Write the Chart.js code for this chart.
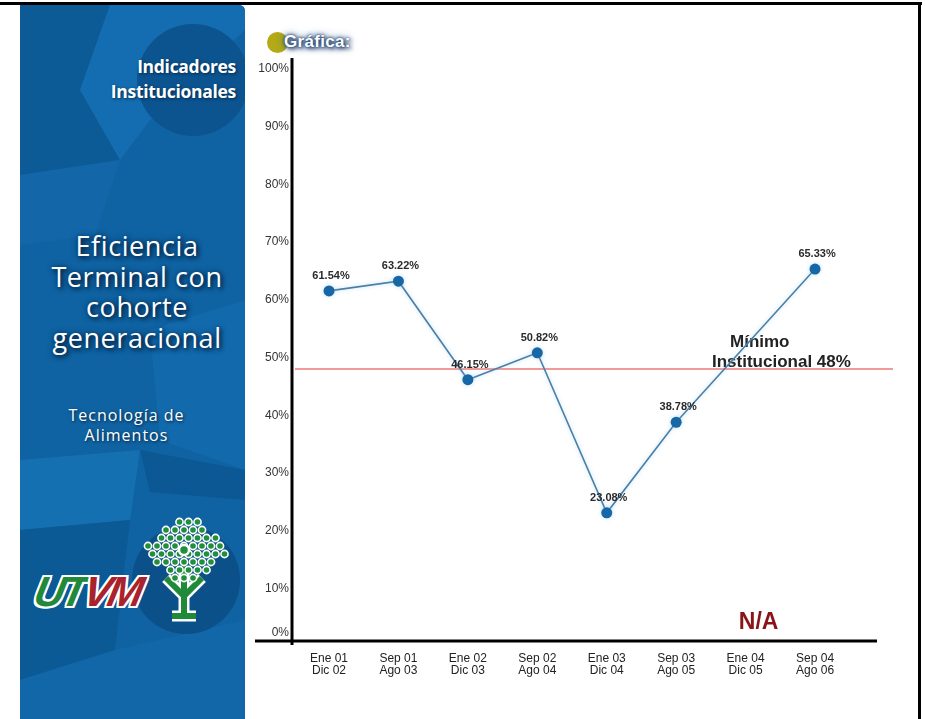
<!DOCTYPE html>
<html lang="es">
<head>
<meta charset="utf-8">
<title>Eficiencia Terminal con cohorte generacional</title>
<script src="https://cdn.jsdelivr.net/npm/chart.js@4.4.1/dist/chart.umd.min.js"></script>
<style>
  html, body { margin: 0; padding: 0; background: #fff; }
  body { width: 925px; height: 719px; position: relative; overflow: hidden; font-family: "Liberation Sans", Arial, sans-serif; }
  #frameTop { position: absolute; left: 0; top: 2px; width: 922px; height: 3px; background: #000; }
  #frameRight { position: absolute; left: 918px; top: 2px; width: 3px; height: 717px; background: #000; }
  #panel { position: absolute; left: 20px; top: 5px; width: 225px; height: 714px; background: #0f63a2; overflow: hidden; border-top-right-radius: 6px; }
  #panel svg.bg { position: absolute; left: 0; top: 0; }
  .ptxt { position: absolute; color: #fff; font-family: "Open Sans", "DejaVu Sans", sans-serif; white-space: nowrap; }
  #indic { right: 9px; top: 49px; text-align: right; font-weight: 700; font-size: 17.5px; line-height: 25px; letter-spacing: -0.3px; text-shadow: 1px 1px 3px #05284a; }
  #titulo { left: 0; width: 234px; top: 226px; text-align: center; font-size: 27px; line-height: 30.5px; letter-spacing: 0.6px; text-shadow: 2px 2px 4px #041f3d, 0 0 6px #072f58; }
  #carrera { left: 0; width: 213px; top: 400px; text-align: center; font-size: 16px; line-height: 20px; letter-spacing: 1px; text-shadow: 1px 1px 3px #041f3d; }
  #logoText { position: absolute; left: 15px; top: 563px; font-family: "Liberation Sans", Arial, sans-serif; font-weight: 700; font-style: italic; font-size: 42px; letter-spacing: -3.5px; transform: skewX(-12deg);
    text-shadow: 2px 0 0 #fff, -2px 0 0 #fff, 0 2px 0 #fff, 0 -2px 0 #fff, 2px 2px 0 #fff, -2px -2px 0 #fff, 2px -2px 0 #fff, -2px 2px 0 #fff; }
  #logoText .g { color: #23893a; }
  #logoText .r { color: #a8232b; }
  #grafBadge { position: absolute; left: 267px; top: 32px; width: 21px; height: 21px; border-radius: 50%; background: #b2aa17; }
  #grafText { position: absolute; left: 284px; top: 32px; color: #fff; font-weight: 700; font-size: 17px; letter-spacing: 0.3px; text-shadow: 0 0 2px #1d3c68, 0 0 4px #24497c, 2px 2px 4px #1d3c68, 0 0 8px #3a5f8f; }
  #chartBox { position: absolute; left: 0; top: 0; width: 925px; height: 719px; }
</style>
</head>
<body>
<div id="panel">
  <svg class="bg" width="225" height="714" viewBox="20 5 225 714" xmlns="http://www.w3.org/2000/svg">
    <polygon points="20,5 110,5 80,90 120,160 20,175" fill="#0c5b96"/>
    <polygon points="110,5 245,5 245,30 150,120 120,160 80,90" fill="#146db0"/>
    <circle cx="193" cy="80" r="56" fill="#0b5490"/>
    <polygon points="20,175 120,160 95,235 20,245" fill="#1367a8"/>
    <polygon points="150,330 245,300 245,470 160,440" fill="#126aac"/>
    <polygon points="140,450 245,470 245,500 150,492" fill="#0c5894"/>
    <polygon points="20,460 140,450 130,520 20,530" fill="#1570b1"/>
    <polygon points="20,530 130,520 115,650 20,680" fill="#0c5a95"/>
    <polygon points="115,650 245,620 245,719 20,719 20,680" fill="#1267a8"/>
    <circle cx="186" cy="580" r="54" fill="#0b5089"/>
    <g id="tree"></g>
  </svg>
  <div id="indic" class="ptxt">Indicadores<br>Institucionales</div>
  <div id="titulo" class="ptxt">Eficiencia<br>Terminal con<br>cohorte<br>generacional</div>
  <div id="carrera" class="ptxt">Tecnología de<br>Alimentos</div>
  <div id="logoText"><span class="g">UT</span><span class="r">VM</span></div>
</div>
<div id="frameTop"></div>
<div id="frameRight"></div>
<div id="grafBadge"></div>
<div id="grafText">Gráfica:</div>
<div id="chartBox"><canvas id="chart" width="925" height="719"></canvas></div>

<script>
// Cohort periods (two-line category labels)
const periodLabels = [
  ['Ene 01', 'Dic 02'],
  ['Sep 01', 'Ago 03'],
  ['Ene 02', 'Dic 03'],
  ['Sep 02', 'Ago 04'],
  ['Ene 03', 'Dic 04'],
  ['Sep 03', 'Ago 05'],
  ['Ene 04', 'Dic 05'],
  ['Sep 04', 'Ago 06']
];
// Terminal efficiency per cohort (%); null = not applicable yet
const efficiency = [61.54, 63.22, 46.15, 50.82, 23.08, 38.78, null, 65.33];
// Y axis ticks (%)
const yTicks = [0, 10, 20, 30, 40, 50, 60, 70, 80, 90, 100];
// Institutional minimum (%)
const minimumLevel = 48;
const notApplicableText = 'N/A';

// Decorative tree of the logo
(function drawTree() {
  const ns = 'http://www.w3.org/2000/svg';
  const g = document.getElementById('tree');
  const cx = 184, cy = 550;
  const trunk = document.createElementNS(ns, 'path');
  trunk.setAttribute('d', `M${cx} 566 L${cx} 614 M${cx - 18} 578 L${cx} 596 L${cx + 18} 578 M${cx - 12} 616 L${cx + 12} 616`);
  trunk.setAttribute('stroke', '#fff'); trunk.setAttribute('stroke-width', '11'); trunk.setAttribute('fill', 'none');
  g.appendChild(trunk);
  const trunk2 = trunk.cloneNode(); trunk2.setAttribute('stroke', '#1f8a38'); trunk2.setAttribute('stroke-width', '6');
  g.appendChild(trunk2);
  for (let dy = -28; dy <= 28; dy += 8) {
    const half = 43 * (1 - Math.abs(dy) / 36);
    const shift = (Math.round(dy / 8) % 2) ? 4.5 : 0;
    for (let dx = -Math.floor(half / 9) * 9; dx <= half; dx += 9) {
      const c = document.createElementNS(ns, 'circle');
      c.setAttribute('cx', cx + dx + shift);
      c.setAttribute('cy', cy + dy);
      c.setAttribute('r', '3.6');
      c.setAttribute('fill', '#1f8f3a');
      c.setAttribute('stroke', '#fff');
      c.setAttribute('stroke-width', '1.6');
      g.appendChild(c);
    }
  }
  const hub = document.createElementNS(ns, 'circle');
  hub.setAttribute('cx', cx); hub.setAttribute('cy', cy); hub.setAttribute('r', '5');
  hub.setAttribute('fill', '#1f8f3a'); hub.setAttribute('stroke', '#fff'); hub.setAttribute('stroke-width', '2.5');
  g.appendChild(hub);
})();

// Axes lines, zero label, minimum line and annotations
const decorPlugin = {
  id: 'decor',
  beforeDatasetsDraw(chart) {
    const { ctx, chartArea, scales: { x, y } } = chart;
    const yMin = y.getPixelForValue(minimumLevel);
    ctx.save();
    ctx.fillStyle = '#f29a9a';
    ctx.fillRect(chartArea.left + 3, Math.round(yMin) - 1, chartArea.right + 17 - (chartArea.left + 3), 2);

    ctx.strokeStyle = '#000';
    ctx.lineWidth = 3;
    const y0 = y.getPixelForValue(0);
    ctx.beginPath();
    ctx.moveTo(chartArea.left, chartArea.top - 11);
    ctx.lineTo(chartArea.left, y0 - 1);
    ctx.stroke();
    ctx.beginPath();
    ctx.moveTo(chartArea.left - 37, y0 - 5);
    ctx.lineTo(chartArea.right + 1, y0 - 5);
    ctx.stroke();

    ctx.fillStyle = '#333';
    ctx.font = '12px "Liberation Sans", Arial, sans-serif';
    ctx.textAlign = 'right';
    ctx.textBaseline = 'middle';
    ctx.fillText(yTicks[0] + '%', chartArea.left - 3, y0 - 13);

    ctx.fillStyle = '#222';
    ctx.font = 'bold 17px "Liberation Sans", Arial, sans-serif';
    ctx.textAlign = 'left';
    ctx.fillText('Mínimo', chartArea.right - 146, yMin - 27);
    ctx.fillText('Institucional ' + minimumLevel + '%', chartArea.right - 164, yMin - 7);

    const naIndex = efficiency.indexOf(null);
    ctx.fillStyle = '#8a1418';
    ctx.font = 'bold 23px "Liberation Sans", Arial, sans-serif';
    ctx.textAlign = 'center';
    ctx.fillText(notApplicableText, x.getPixelForValue(naIndex) + 13, y0 - 23);
    ctx.restore();

    ctx.save();
    ctx.shadowColor = 'rgba(140,195,230,0.55)';
    ctx.shadowBlur = 4;
  },
  afterDatasetsDraw(chart) {
    const { ctx } = chart;
    ctx.restore();
    const meta = chart.getDatasetMeta(0);
    ctx.save();
    ctx.fillStyle = '#2a2a2a';
    ctx.font = 'bold 11px "Liberation Sans", Arial, sans-serif';
    ctx.textAlign = 'center';
    ctx.textBaseline = 'middle';
    meta.data.forEach((pt, i) => {
      const v = efficiency[i];
      if (v === null) return;
      ctx.fillText(v.toFixed(2) + '%', pt.x + 2, pt.y - 15);
    });
    ctx.restore();
  }
};

new Chart(document.getElementById('chart'), {
  type: 'line',
  data: {
    datasets: [{
      data: efficiency.map((v, i) => ({ x: i, y: v })),
      borderColor: '#4a80a8',
      borderWidth: 1.6,
      pointRadius: 5.5,
      pointBackgroundColor: '#1767a6',
      pointBorderColor: '#1767a6',
      pointBorderWidth: 0,
      tension: 0,
      spanGaps: true,
      fill: false
    }]
  },
  options: {
    responsive: false,
    animation: false,
    layout: { padding: { top: 69, right: 49, left: 0, bottom: 0 } },
    plugins: { legend: { display: false }, tooltip: { enabled: false } },
    scales: {
      x: {
        type: 'linear',
        min: -0.533,
        max: 7.878,
        grid: { display: false, drawTicks: false },
        border: { display: false },
        afterBuildTicks: s => { s.ticks = periodLabels.map((_, i) => ({ value: i })); },
        afterFit: s => { s.height = 73; },
        ticks: {
          autoSkip: false,
          maxRotation: 0,
          padding: 7,
          color: '#222',
          font: { family: '"Liberation Sans", Arial, sans-serif', size: 12, lineHeight: 1.0 },
          callback: v => periodLabels[v] || ''
        }
      },
      y: {
        min: 0,
        max: 100,
        grid: { display: false, drawTicks: false },
        border: { display: false },
        afterBuildTicks: s => { s.ticks = yTicks.map(v => ({ value: v })); },
        afterFit: s => { s.width = 292; },
        ticks: {
          padding: 3,
          color: '#333',
          font: { family: '"Liberation Sans", Arial, sans-serif', size: 12 },
          callback: v => (v === yTicks[0] ? '' : v + '%')
        }
      }
    }
  },
  plugins: [decorPlugin]
});
</script>
</body>
</html>
